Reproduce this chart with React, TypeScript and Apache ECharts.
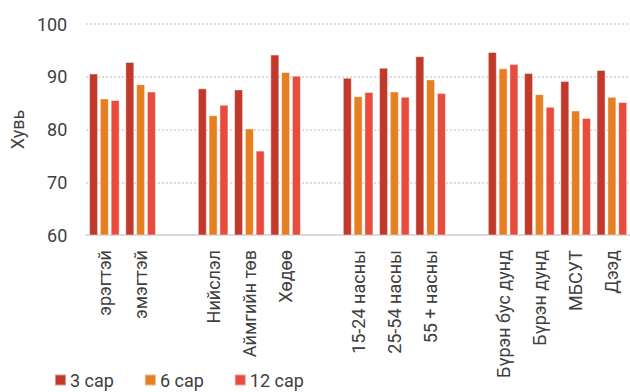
import React, { useEffect, useRef } from "react";
import * as echarts from "echarts";

const categories = [
  "эрэгтэй", "эмэгтэй", "",
  "Нийслэл", "Аймгийн төв", "Хөдөө", "",
  "15-24 насны", "25-54 насны", "55 + насны", "",
  "Бүрэн бус дунд", "Бүрэн дунд", "МБСУТ", "Дээд",
];
const seriesNames = ["3 сар", "6 сар", "12 сар"];
const s3 = [90.6, 92.8, "-", 87.8, 87.6, 94.2, "-", 89.8, 91.7, 93.9, "-", 94.7, 90.7, 89.2, 91.3];
const s6 = [85.9, 88.6, "-", 82.7, 80.2, 90.9, "-", 86.3, 87.2, 89.5, "-", 91.6, 86.7, 83.6, 86.2];
const s12 = [85.6, 87.2, "-", 84.7, 76.0, 90.2, "-", 87.1, 86.2, 86.9, "-", 92.4, 84.3, 82.2, 85.2];
const colors = ["#c0392b", "#e67e22", "#e74c3c"];
const yTicks = { min: 60, max: 100, interval: 10 };
const yName = "Хувь";

export default function App() {
  const ref = useRef<HTMLDivElement>(null);
  useEffect(() => {
    if (!ref.current) return;
    const chart = echarts.init(ref.current, undefined, { renderer: "svg" });
    const font = "Roboto, sans-serif";
    const values = [s3, s6, s12];
    chart.setOption({
      animation: false,
      textStyle: { fontFamily: font },
      color: colors,
      legend: {
        left: 54,
        top: 371,
        itemWidth: 11,
        itemHeight: 11,
        itemGap: 30,
        icon: "rect",
        padding: 0,
        textStyle: { fontSize: 18, color: "#404040", fontFamily: font, padding: [0, 0, 0, -1] },
        data: seriesNames,
      },
      grid: { left: 84, top: 24, width: 549, height: 211, containLabel: false },
      xAxis: {
        type: "category",
        data: categories,
        axisLine: { show: true, lineStyle: { color: "#dadada", width: 2 } },
        axisTick: { show: false },
        axisLabel: {
          rotate: 90,
          interval: 0,
          margin: 15,
          fontSize: 18,
          color: "#404040",
          fontFamily: font,
        },
        splitLine: { show: false },
      },
      yAxis: {
        type: "value",
        min: yTicks.min,
        max: yTicks.max,
        interval: yTicks.interval,
        name: yName,
        nameLocation: "middle",
        nameRotate: 90,
        nameGap: 58,
        nameTextStyle: { fontSize: 18, color: "#404040", fontFamily: font },
        axisLine: { show: false },
        axisTick: { show: false },
        axisLabel: { fontSize: 18, color: "#404040", margin: 19, fontFamily: font },
        splitLine: { show: true, lineStyle: { color: "#cfcfcf", type: [2, 2], width: 1.5 } },
      },
      series: seriesNames.map((name, i) => ({
        name,
        type: "bar",
        data: values[i],
        barWidth: 9,
        barGap: "20%",
        itemStyle: {
          color: colors[i],
          borderColor: "rgba(255,255,255,0.45)",
          borderWidth: 1,
        },
      })),
    });
    return () => chart.dispose();
  }, []);
  return <div ref={ref} style={{ width: 630, height: 392, position: "absolute", left: 0, top: 0 }} />;
}
